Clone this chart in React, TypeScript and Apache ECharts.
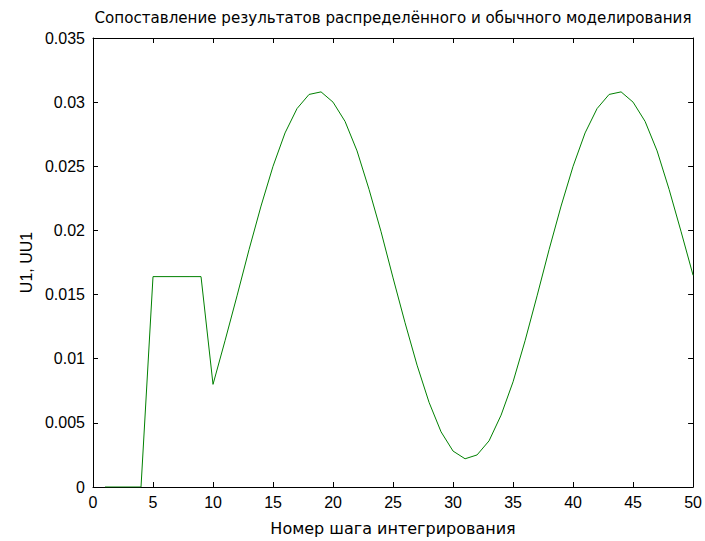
import React, { useEffect, useRef } from "react";
import * as echarts from "echarts";

const titleText = "Сопоставление результатов распределённого и обычного моделирования";
const xName = "Номер шага интегрирования";
const yName = "U1, UU1";

const steps = [
  1, 2, 3, 4, 5, 6, 7, 8, 9, 10,
  11, 12, 13, 14, 15, 16, 17, 18, 19, 20,
  21, 22, 23, 24, 25, 26, 27, 28, 29, 30,
  31, 32, 33, 34, 35, 36, 37, 38, 39, 40,
  41, 42, 43, 44, 45, 46, 47, 48, 49, 50,
];

const values = [
  0, 0, 0, 0, 0.0164, 0.0164, 0.0164, 0.0164, 0.0164, 0.0080,
  0.0114, 0.0149, 0.0185, 0.0219, 0.0250, 0.0276, 0.0295, 0.0306, 0.0308, 0.0300,
  0.0285, 0.0262, 0.0232, 0.0199, 0.0163, 0.0128, 0.0095, 0.0066, 0.0043, 0.0028,
  0.0022, 0.0025, 0.0036, 0.0056, 0.0082, 0.0114, 0.0149, 0.0185, 0.0219, 0.0250,
  0.0276, 0.0295, 0.0306, 0.0308, 0.0300, 0.0285, 0.0262, 0.0232, 0.0199, 0.0165,
];

const FONT = "'Liberation Sans', Arial, sans-serif";
const FONT_WIDE = "'DejaVu Sans', 'Liberation Sans', sans-serif";

export default function App() {
  const ref = useRef<HTMLDivElement>(null);
  useEffect(() => {
    if (!ref.current) return;
    const chart = echarts.init(ref.current, undefined, { renderer: "svg" });
    const axisLine = { show: true, onZero: false, lineStyle: { color: "#000", width: 1 } };
    const tick = { show: true, inside: true, length: 5, lineStyle: { color: "#000", width: 1 } };
    const label = { color: "#000", fontSize: 16, fontFamily: FONT };
    chart.setOption({
      animation: false,
      backgroundColor: "#fff",
      grid: { left: 93, right: 8, top: 38, bottom: 50, containLabel: false },
      graphic: [
        {
          type: "text",
          x: 393,
          y: 18,
          style: {
            text: titleText,
            fill: "#000",
            font: `15.1px ${FONT_WIDE}`,
            textAlign: "center",
            textVerticalAlign: "middle",
          },
        },
      ],
      xAxis: [
        {
          type: "value",
          min: 0,
          max: 50,
          interval: 5,
          position: "bottom",
          name: xName,
          nameLocation: "middle",
          nameGap: 33,
          nameTextStyle: { color: "#000", fontSize: 16, fontFamily: FONT_WIDE },
          axisLine,
          axisTick: tick,
          axisLabel: { ...label, margin: 7 },
          splitLine: { show: false },
        },
        {
          type: "value",
          min: 0,
          max: 50,
          interval: 5,
          position: "top",
          axisLine,
          axisTick: tick,
          axisLabel: { show: false },
          splitLine: { show: false },
        },
      ],
      yAxis: [
        {
          type: "value",
          min: 0,
          max: 0.035,
          interval: 0.005,
          position: "left",
          name: yName,
          nameLocation: "middle",
          nameGap: 58,
          nameTextStyle: { color: "#000", fontSize: 16, fontFamily: FONT },
          axisLine,
          axisTick: tick,
          axisLabel: {
            ...label,
            margin: 8,
            formatter: (v: number) => String(parseFloat(v.toFixed(4))),
          },
          splitLine: { show: false },
        },
        {
          type: "value",
          min: 0,
          max: 0.035,
          interval: 0.005,
          position: "right",
          axisLine,
          axisTick: tick,
          axisLabel: { show: false },
          splitLine: { show: false },
        },
      ],
      series: [
        {
          type: "line",
          xAxisIndex: 0,
          yAxisIndex: 0,
          data: steps.map((s, i) => [s, values[i]]),
          showSymbol: false,
          lineStyle: { color: "#008000", width: 1 },
          itemStyle: { color: "#008000" },
        },
      ],
    });
    return () => chart.dispose();
  }, []);
  return (
    <div
      ref={ref}
      style={{ position: "fixed", left: 0, top: 0, width: 705, height: 541 }}
    />
  );
}
